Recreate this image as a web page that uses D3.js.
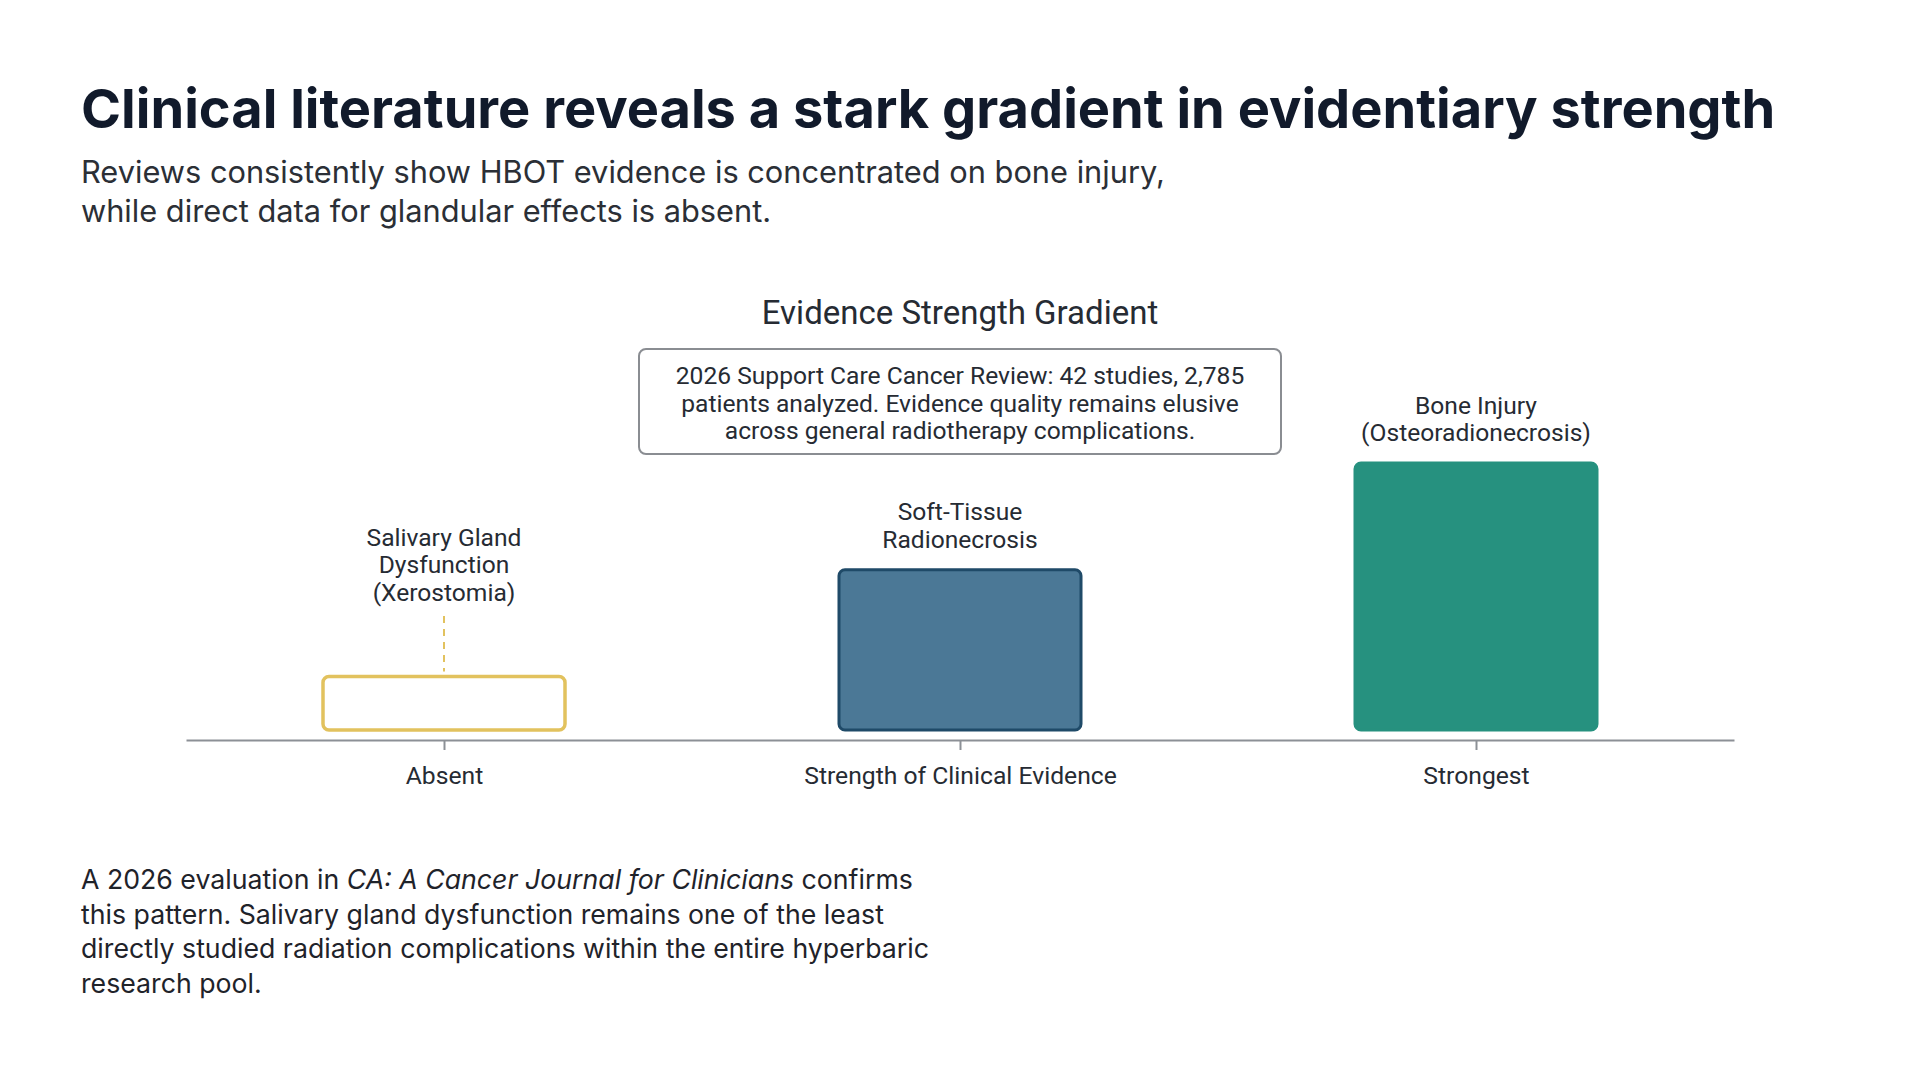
<!DOCTYPE html>
<html>
<head>
<meta charset="utf-8">
<script src="https://cdn.jsdelivr.net/npm/d3@7"></script>
<style>
  html, body { margin: 0; padding: 0; background: #ffffff; }
  svg { display: block; }
</style>
</head>
<body>
<script>
// chart data
const categories = ["Salivary Gland Dysfunction (Xerostomia)", "Soft-Tissue Radionecrosis", "Bone Injury (Osteoradionecrosis)"];
const categoryLines = [["Salivary Gland", "Dysfunction", "(Xerostomia)"], ["Soft-Tissue", "Radionecrosis"], ["Bone Injury", "(Osteoradionecrosis)"]];
const strength = [1, 3, 5];
const tickLabels = ["Absent", "Strength of Clinical Evidence", "Strongest"];
const barColors = ["#ffffff", "#4b7896", "#26917f"];
const barStrokes = ["#e2c25e", "#1f4a68", "#26917f"];

const W = 1920, H = 1072;
const svg = d3.select("body").append("svg").attr("width", W).attr("height", H);

const textColor = "#262b33";

// fit a text element to a given width by tuning the font size
function fitWidth(sel, target) {
  const w = sel.node().getComputedTextLength();
  const fs = parseFloat(sel.style("font-size"));
  sel.style("font-size", (fs * target / w) + "px");
}

// Heading
const title = svg.append("text")
    .attr("x", 81).attr("y", 128)
    .style("font-family", "Inter, 'Noto Sans', sans-serif")
    .style("font-weight", 700)
    .style("font-size", "56px")
    .style("fill", "#111a2b")
    .text("Clinical literature reveals a stark gradient in evidentiary strength");
fitWidth(title, 1695);

const subLines = ["Reviews consistently show HBOT evidence is concentrated on bone injury,", "while direct data for glandular effects is absent."];
const sub = svg.append("text")
    .style("font-family", "Inter, 'Noto Sans', sans-serif")
    .style("font-size", "31px")
    .style("fill", "#2b2f36");
sub.selectAll("tspan").data(subLines).enter().append("tspan")
    .attr("x", 81).attr("y", (d, i) => 183 + i * 39)
    .text(d => d);
fitWidth(d3.select(sub.selectAll("tspan").nodes()[0]), 1084);
const fsSub = sub.select("tspan").style("font-size");
sub.selectAll("tspan").style("font-size", fsSub);

// chart title
svg.append("text")
    .attr("x", 960).attr("y", 324)
    .attr("text-anchor", "middle")
    .style("font-family", "Roboto, sans-serif")
    .style("font-size", "33px")
    .style("fill", textColor)
    .text("Evidence Strength Gradient");

// annotation box
svg.append("rect")
    .attr("x", 639).attr("y", 349).attr("width", 642).attr("height", 105)
    .attr("rx", 7)
    .attr("fill", "#ffffff").attr("stroke", "#8a8d92").attr("stroke-width", 2);
const noteLines = ["2026 Support Care Cancer Review: 42 studies, 2,785", "patients analyzed. Evidence quality remains elusive", "across general radiotherapy complications."];
svg.append("text")
    .attr("text-anchor", "middle")
    .style("font-family", "Roboto, sans-serif")
    .style("font-size", "24.6px")
    .style("fill", textColor)
    .selectAll("tspan").data(noteLines).enter().append("tspan")
    .attr("x", 960).attr("y", (d, i) => 384 + i * 27.5)
    .text(d => d);

// scales
const x = d3.scalePoint().domain(categories).range([186, 1734]).padding(0.5);
const xb = d3.scaleBand().domain(categories).range([186, 1734]).paddingInner(0.531).paddingOuter(0.2655);
const y = d3.scaleLinear().domain([0, 5]).range([730, 463]);

// bars
svg.selectAll(".bar")
    .data(strength)
    .enter()
    .append("rect")
    .attr("class", "bar")
    .attr("x", (d, i) => xb(categories[i]))
    .attr("width", xb.bandwidth())
    .attr("y", d => y(d))
    .attr("height", d => y(0) - y(d))
    .attr("rx", 6)
    .attr("fill", (d, i) => barColors[i])
    .attr("stroke", (d, i) => barStrokes[i])
    .attr("stroke-width", (d, i) => i === 0 ? 3.5 : 3);

// dashed connector for the absent category
svg.append("line")
    .attr("x1", x(categories[0])).attr("x2", x(categories[0]))
    .attr("y1", 616).attr("y2", y(strength[0]) - 5)
    .attr("stroke", "#e2c25e").attr("stroke-width", 2)
    .attr("stroke-dasharray", "7,6");

// labels above bars
categoryLines.forEach(function(lines, i) {
  const offset = i === 0 ? 76 : 22;
  const lastBase = y(strength[i]) - offset;
  svg.append("text")
      .attr("text-anchor", "middle")
      .style("font-family", "Roboto, sans-serif")
      .style("font-size", "24.6px")
      .style("fill", textColor)
      .selectAll("tspan").data(lines).enter().append("tspan")
      .attr("x", x(categories[i]))
      .attr("y", (d, j) => lastBase - (lines.length - 1 - j) * 27.5)
      .text(d => d);
});

// x axis
const axis = svg.append("g")
    .attr("transform", "translate(0,740)")
    .call(d3.axisBottom(x).tickSize(10).tickSizeOuter(0).tickPadding(16)
        .tickFormat((d, i) => tickLabels[i]));
axis.select(".domain").attr("stroke", "#8c9096").attr("stroke-width", 2);
axis.selectAll(".tick line").attr("stroke", "#8c9096").attr("stroke-width", 2);
axis.selectAll(".tick text")
    .style("font-family", "Roboto, sans-serif")
    .style("font-size", "24.7px")
    .attr("fill", textColor);

// footnote
const foot = svg.append("text")
    .style("font-family", "Inter, 'Noto Sans', sans-serif")
    .style("font-size", "26.7px")
    .style("fill", "#1f232a");
const footLines = [
  [["A 2026 evaluation in ", false], ["CA: A Cancer Journal for Clinicians", true], [" confirms", false]],
  [["this pattern. Salivary gland dysfunction remains one of the least", false]],
  [["directly studied radiation complications within the entire hyperbaric", false]],
  [["research pool.", false]]
];
footLines.forEach(function(parts, i) {
  parts.forEach(function(p, j) {
    const t = foot.append("tspan").text(p[0]).style("font-style", p[1] ? "italic" : "normal");
    if (j === 0) t.attr("x", 81).attr("y", 889 + i * 34.5);
  });
});
</script>
</body>
</html>
